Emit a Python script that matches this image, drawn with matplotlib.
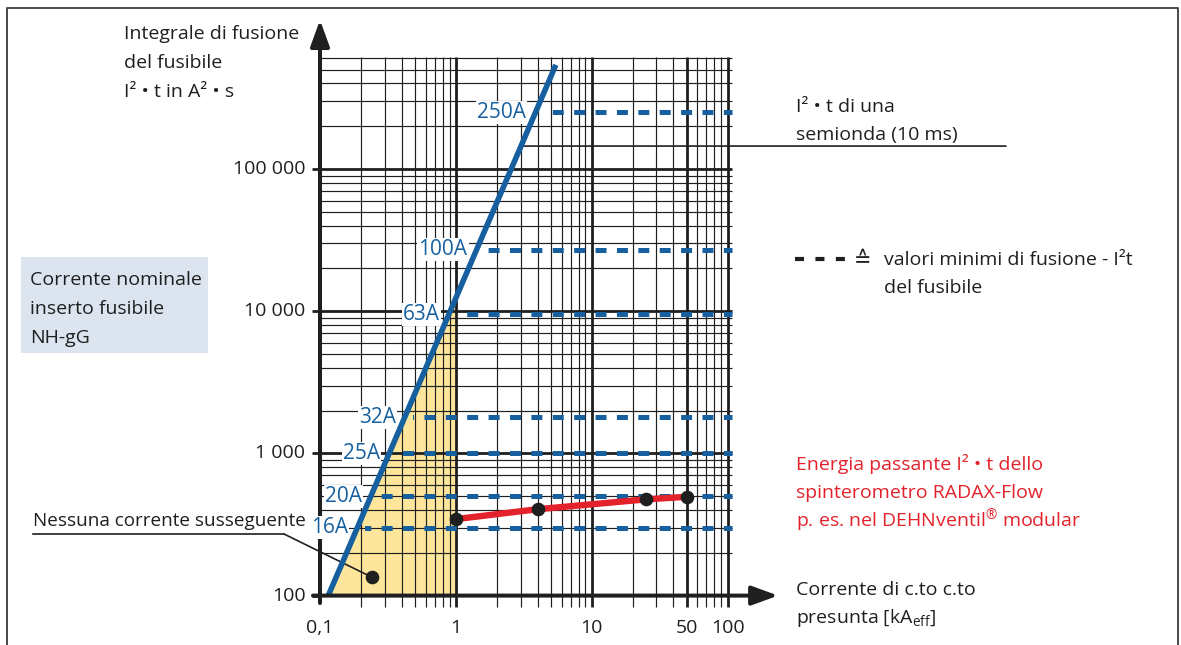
import numpy as np
import matplotlib
matplotlib.use("Agg")
import matplotlib.pyplot as plt
from matplotlib.patches import Rectangle
from matplotlib.lines import Line2D
from matplotlib.transforms import blended_transform_factory

# ---- data -------------------------------------------------------------
# I²t of one half-wave (10 ms) versus prospective short-circuit current
semi_wave_current = [0.115, 5.45]          # kA
semi_wave_i2t = [100, 5.4e5]               # A²s
semi_wave_pointer_i2t = 1.45e5             # where the caption leader meets the line

# minimum melting I²t of NH-gG fuse links
fuse_ratings = ["16A", "20A", "25A", "32A", "63A", "100A", "250A"]
fuse_min_i2t = [300, 500, 1000, 1800, 9500, 27000, 250000]

# let-through energy of the RADAX-Flow spark gap
radax_current = [1, 4, 25, 50]
radax_i2t = [345, 405, 475, 495]

# "no follow current" marker
no_follow_current = [0.24]
no_follow_i2t = [135]

x_ticks = [0.1, 1, 10, 50, 100]
x_tick_labels = ["0,1", "1", "10", "50", "100"]
y_ticks = [100, 1000, 10000, 100000]
y_tick_labels = ["100", "1 000", "10 000", "100 000"]

# ---- style ------------------------------------------------------------
plt.rcParams["font.family"] = ["Open Sans", "DejaVu Sans"]
plt.rcParams["mathtext.fontset"] = "custom"
plt.rcParams["mathtext.rm"] = "Open Sans"
plt.rcParams["lines.scale_dashes"] = False

BLUE = "#17609f"
RED = "#e3222b"
INK = "#1f1f1f"
YELLOW = "#fde69b"
BOX = "#dbe4ef"
FS = 14.0
FS_LABEL = 15.0

W, H = 1181, 645
fig = plt.figure(figsize=(W / 100, H / 100), dpi=100)


def fx(px):
    return px / W


def fy(py):
    return 1 - py / H


ax = fig.add_axes([fx(320), fy(595.6), 407.5 / W, (595.6 - 26.8) / H])
ax.set_xscale("log")
ax.set_yscale("log")
ax.set_xlim(0.1, 100)
ax.set_ylim(100, 1e6)
ax.axis("off")


def semi_wave_x(y):
    return 10 ** np.interp(np.log10(y), np.log10(semi_wave_i2t), np.log10(semi_wave_current))


def semi_wave_y(x):
    return 10 ** np.interp(np.log10(x), np.log10(semi_wave_current), np.log10(semi_wave_i2t))


# ---- shaded "no follow current" region under the half-wave line --------
x0 = semi_wave_current[0]
ax.fill([x0, 1, 1], [semi_wave_i2t[0], semi_wave_y(1), semi_wave_i2t[0]],
        color=YELLOW, lw=0, zorder=1)

# ---- log grid -----------------------------------------------------------
x_major = [1, 10, 50, 100]
x_minor = [m * 10.0 ** e for e in (-1, 0, 1) for m in range(2, 10)]
x_minor = [v for v in x_minor if not any(np.isclose(v, x_major))]
y_major = [1000, 10000, 100000]
y_minor = [m * 10.0 ** e for e in (2, 3, 4, 5) for m in range(2, 10)]
y_minor = [v for v in y_minor if v <= 6e5]

ax.vlines(x_minor, 83, 6.1e5, colors=INK, lw=0.85, clip_on=False, zorder=2)
ax.vlines(x_major, 83, 6.1e5, colors=INK, lw=2.0, clip_on=False, zorder=2)
ax.hlines(y_minor, 0.1, 108, colors=INK, lw=0.85, clip_on=False, zorder=2)
ax.hlines(y_major, 0.0873, 108, colors=INK, lw=2.0, clip_on=False, zorder=2)
ax.hlines([100], 0.0873, 0.1, colors=INK, lw=2.0, clip_on=False, zorder=2)

# ---- axes with arrows ---------------------------------------------------
arrow = dict(arrowstyle="-|>,head_length=0.55,head_width=0.2", lw=2.9,
             color=INK, shrinkA=0, shrinkB=0, mutation_scale=29)
ax.annotate("", xy=(0.1, 1.117e6), xytext=(0.1, 88.7), arrowprops=arrow,
            annotation_clip=False, zorder=6)
ax.annotate("", xy=(236, 100), xytext=(0.0888, 100), arrowprops=arrow,
            annotation_clip=False, zorder=6)

for v, lab in zip(y_ticks, y_tick_labels):
    ax.annotate(lab, xy=(0.1, v), xytext=(-10.5, 0), textcoords="offset points",
                ha="right", va="center", fontsize=FS, color=INK,
                annotation_clip=False)
for v, lab in zip(x_ticks, x_tick_labels):
    ax.annotate(lab, xy=(v, 100), xytext=(0, -23), textcoords="offset points",
                ha="center", va="center", fontsize=FS, color=INK,
                annotation_clip=False)

# ---- fuse minimum melting levels (dashed) ---------------------------------
for lab, v in zip(fuse_ratings, fuse_min_i2t):
    xc = semi_wave_x(v)
    ln, = ax.plot([0.0955, 108], [v, v], color=BLUE, lw=3.6,
                  dashes=(7.9, 7.5), dash_capstyle="butt", zorder=3)
    ln.set_clip_path(Rectangle((xc * 10 ** (8 / 135.8), 50), 1000, 1e7,
                               transform=ax.transData))
    ax.annotate(lab, xy=(xc, v), xytext=(-6.5, 0), textcoords="offset points",
                ha="right", va="center", fontsize=FS_LABEL, color=BLUE, zorder=8,
                bbox=dict(fc="white", ec="none", pad=0.8),
                annotation_clip=False)

# ---- half-wave line -----------------------------------------------------
ax.plot(semi_wave_current, semi_wave_i2t, color=BLUE, lw=4.0,
        solid_capstyle="butt", zorder=5, clip_on=False)

# ---- RADAX-Flow let-through curve ----------------------------------------
ax.plot(radax_current, radax_i2t, color=RED, lw=4.6, solid_capstyle="butt",
        zorder=6)
ax.plot(radax_current, radax_i2t, "o", ms=8.8, color=INK, zorder=7)
ax.plot(no_follow_current, no_follow_i2t, "o", ms=8.8, color=INK, zorder=7)

# ---- leaders --------------------------------------------------------------
leader = dict(arrowstyle="-", shrinkA=0, shrinkB=0, lw=1.2, color=INK)
fig_y_data = blended_transform_factory(fig.transFigure, ax.transData)
ax.annotate("", xy=(semi_wave_x(semi_wave_pointer_i2t), semi_wave_pointer_i2t),
            xytext=(fx(1006), semi_wave_pointer_i2t), textcoords=fig_y_data,
            arrowprops=leader, annotation_clip=False, zorder=4)
ax.annotate("", xy=(no_follow_current[0], no_follow_i2t[0]),
            xytext=(fx(284), fy(534)), textcoords="figure fraction",
            arrowprops=leader, annotation_clip=False, zorder=4)
fig.add_artist(Line2D([fx(33), fx(284)], [fy(534), fy(534)], lw=1.2, color=INK))

# ---- outer frame -------------------------------------------------------------
fig.add_artist(Line2D([fx(7), fx(7), fx(1178), fx(1178)],
                      [fy(H + 2), fy(8), fy(8), fy(H + 2)], lw=1.3, color="#3a3a3a"))

# ---- texts ------------------------------------------------------------------


def lines(x, y, step, rows, size=FS, **kw):
    for i, r in enumerate(rows):
        fig.text(fx(x), fy(y + i * step), r, va="baseline", ha="left",
                 fontsize=size, **kw)


lines(124, 39, 29, ["Integrale di fusione", "del fusibile", "I² • t in A² • s"], color=INK)
lines(796, 112, 28, ["I² • t di una", "semionda (10 ms)"], color=INK)
lines(884, 265, 28, ["valori minimi di fusione - I²t", "del fusibile"], color=INK)
fig.add_artist(Line2D([fx(795), fx(846)], [fy(259), fy(259)], lw=3, color=INK,
                      dashes=(6.5, 8.2), dash_capstyle="butt"))
fig.text(fx(863), fy(266), "≙", ha="center", va="baseline", fontsize=FS + 1,
         color=INK, family=["DejaVu Sans"])
lines(796, 470, 28.5, ["Energia passante I² • t dello",
                       "spinterometro RADAX-Flow",
                       "p. es. nel DEHNventil$^{\u00ae}$ modular"], color=RED)
lines(796, 595, 28, ["Corrente di c.to c.to",
                     r"presunta [kA$_{\mathrm{eff}}$]"], color=INK)

fig.add_artist(Rectangle((fx(21), fy(353)), fx(208) - fx(21), fy(257) - fy(353),
                         transform=fig.transFigure, fc=BOX, ec="none", zorder=0))
lines(30, 285, 29, ["Corrente nominale", "inserto fusibile", "NH-gG"], color=INK)
lines(33, 526, 0, ["Nessuna corrente susseguente"], size=13.6, color=INK)

fig.savefig("out.png", dpi=100, facecolor="white")
